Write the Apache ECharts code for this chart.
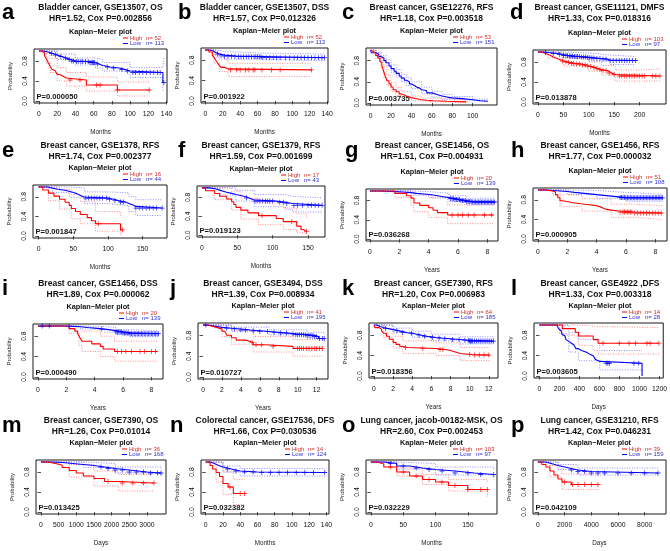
<!DOCTYPE html>
<html><head><meta charset="utf-8">
<script src="https://cdn.jsdelivr.net/npm/echarts@6/dist/echarts.min.js"></script>
<style>html,body{margin:0;padding:0;background:#fff}#c{width:670px;height:551px}</style>
</head><body><div id="c"></div>
<script>
// ---------- text content ----------
const letters = ['a','b','c','d','e','f','g','h','i','j','k','l','m','n','o','p'];
const titles1 = ['Bladder cancer, GSE13507, OS','Bladder cancer, GSE13507, DSS','Breast cancer, GSE12276, RFS','Breast cancer, GSE11121, DMFS',
 'Breast cancer, GSE1378, RFS','Breast cancer, GSE1379, RFS','Breast cancer, GSE1456, OS','Breast cancer, GSE1456, RFS',
 'Breast cancer, GSE1456, DSS','Breast cancer, GSE3494, DSS','Breast cancer, GSE7390, RFS','Breast cancer, GSE4922 ,DFS',
 'Breast cancer, GSE7390, OS','Colorectal cancer, GSE17536, DFS','Lung cancer, jacob-00182-MSK, OS','Lung cancer, GSE31210, RFS'];
const titles2 = ['HR=1.52, Cox P=0.002856','HR=1.57, Cox P=0.012326','HR=1.18, Cox P=0.003518','HR=1.33, Cox P=0.018316',
 'HR=1.74, Cox P=0.002377','HR=1.59, Cox P=0.001699','HR=1.51, Cox P=0.004931','HR=1.77, Cox P=0.000032',
 'HR=1.89, Cox P=0.000062','HR=1.39, Cox P=0.008934','HR=1.20, Cox P=0.006983','HR=1.33, Cox P=0.003318',
 'HR=1.26, Cox P=0.01014','HR=1.66, Cox P=0.030536','HR=2.60, Cox P=0.002453','HR=1.42, Cox P=0.046231'];
const highN = [52,52,53,103,16,17,20,51,20,41,64,14,36,14,103,39];
const lowN  = [113,113,151,97,44,43,139,108,139,195,185,28,168,124,97,159];
const pTexts = ['P=0.000050','P=0.001922','P=0.003735','P=0.013878','P=0.001847','P=0.019123','P=0.036268','P=0.000905',
 'P=0.000490','P=0.010727','P=0.018356','P=0.003605','P=0.013425','P=0.032382','P=0.032229','P=0.042109'];
const xNames = ['Months','Months','Months','Months','Months','Months','Years','Years','Years','Years','Years','Days','Days','Months','Months','Days'];
const ticks140 = [0,20,40,60,80,100,120,140];
const ticks100 = [0,20,40,60,80,100];
const ticks200 = [0,50,100,150,200];
const ticks150 = [0,50,100,150];
const ticks8 = [0,2,4,6,8];
const ticks12 = [0,2,4,6,8,10,12];
const ticks1200 = [0,200,400,600,800,1000,1200];
const ticks3000 = [0,500,1000,1500,2000,2500,3000];
const ticks8000 = [0,2000,4000,6000,8000];
const xTicks = [ticks140,ticks140,ticks100,ticks200,ticks150,ticks150,ticks8,ticks8,ticks8,ticks12,ticks12,ticks1200,ticks3000,ticks140,ticks150,ticks8000];
const yTicks = [0,0.4,0.8];

// ---------- curves (time, survival) ----------
const aHigh = [[0,1],[3,0.96],[6,0.9],[8,0.85],[10,0.77],[12,0.7],[14,0.64],[16,0.6],[18,0.56],[20,0.53],[23,0.5],[26,0.46],[30,0.42],[52,0.32],[86,0.22],[121,0.22]];
const aLow = [[0,1],[5,0.98],[10,0.95],[15,0.92],[20,0.89],[25,0.86],[30,0.83],[35,0.8],[40,0.79],[55,0.77],[62,0.74],[66,0.71],[70,0.68],[78,0.66],[88,0.63],[95,0.6],[100,0.57],[136,0.37],[137,0.37]];
const aHighCens = [34,45,63,67,86,121];
const aLowCens = [14,18,24,29,33,36,38,41,43,46,48,51,54,56,58,59,60,61,64,75,82,91,97,103,106,110,114,118,122,126,130,133,137];
const aHighUp = [[0,1],[8,0.95],[12,0.85],[20,0.67],[30,0.57],[52,0.48],[86,0.38],[121,0.38]];
const aHighLo = [[0,1],[8,0.75],[12,0.57],[20,0.4],[30,0.3],[52,0.2],[86,0.1],[121,0.1]];
const aLowUp = [[0,1],[20,0.94],[40,0.86],[62,0.83],[70,0.77],[100,0.67],[136,0.66],[137,0.86]];
const aLowLo = [[0,1],[20,0.83],[40,0.72],[62,0.66],[70,0.6],[100,0.47],[136,0.2],[137,0.2]];

const bHigh = [[0,1],[4,0.96],[8,0.9],[10,0.85],[12,0.8],[14,0.75],[16,0.7],[18,0.66],[22,0.63],[26,0.61],[122,0.61]];
const bLow = [[0,1],[5,0.98],[9,0.95],[12,0.92],[16,0.9],[22,0.88],[35,0.87],[65,0.85],[137,0.85]];
const bHighCens = [29,36,40,46,50,55,57,65,76,86,122];
const bLowCens = [14,18,22,26,30,34,38,41,44,47,50,53,56,58,60,62,64,66,70,74,78,82,86,92,97,102,106,110,114,118,122,126,130,134,137];
const bHighUp = [[0,1],[10,0.95],[16,0.82],[26,0.74],[122,0.74]];
const bHighLo = [[0,1],[10,0.74],[16,0.58],[26,0.48],[122,0.48]];
const bLowUp = [[0,1],[12,0.97],[22,0.94],[65,0.92],[137,0.92]];
const bLowLo = [[0,1],[12,0.86],[22,0.82],[65,0.79],[137,0.78]];

const cHigh = [[0,1],[0.5,0.97],[3,0.94],[5,0.9],[7,0.85],[9,0.79],[10,0.76],[11,0.7],[12,0.64],[13,0.58],[14,0.52],[15,0.47],[16,0.42],[18,0.36],[20,0.3],[22,0.25],[25,0.21],[28,0.17],[30,0.15],[33,0.12],[36,0.1],[40,0.08],[45,0.06],[50,0.05],[55,0.04],[62,0.03],[75,0.02],[94,0.02]];
const cLow = [[0,1],[0.5,0.95],[5,0.92],[8,0.88],[10,0.85],[13,0.8],[15,0.76],[18,0.7],[20,0.65],[23,0.6],[25,0.56],[28,0.51],[30,0.47],[33,0.43],[35,0.4],[38,0.36],[40,0.33],[43,0.3],[45,0.28],[48,0.25],[50,0.23],[55,0.19],[60,0.16],[65,0.13],[70,0.11],[75,0.095],[80,0.08],[90,0.06],[100,0.04],[108,0.03],[115,0.02]];
const cHighCens = [];
const cLowCens = [];
const cHighUp = [[0,1],[5,0.95],[10,0.84],[13,0.68],[16,0.52],[20,0.39],[25,0.29],[30,0.22],[40,0.13],[50,0.09],[62,0.06],[94,0.05]];
const cHighLo = [[0,1],[5,0.84],[10,0.67],[13,0.48],[16,0.33],[20,0.22],[25,0.14],[30,0.09],[40,0.04],[50,0.02],[62,0.01],[94,0.005]];
const cLowUp = [[0,1],[5,0.96],[10,0.9],[15,0.82],[20,0.72],[25,0.63],[30,0.54],[35,0.47],[40,0.4],[50,0.3],[60,0.22],[70,0.16],[80,0.12],[100,0.07],[115,0.05]];
const cLowLo = [[0,1],[5,0.88],[10,0.8],[15,0.7],[20,0.58],[25,0.49],[30,0.4],[35,0.33],[40,0.27],[50,0.17],[60,0.11],[70,0.07],[80,0.05],[100,0.02],[115,0.01]];

const dHigh = [[0,1],[5,0.99],[10,0.97],[15,0.95],[20,0.93],[25,0.9],[30,0.88],[35,0.86],[40,0.84],[45,0.82],[50,0.8],[58,0.79],[65,0.77],[75,0.76],[85,0.74],[95,0.72],[100,0.71],[105,0.69],[112,0.67],[118,0.65],[125,0.63],[135,0.61],[140,0.58],[145,0.55],[152,0.52],[240,0.52]];
const dLow = [[0,1],[12,0.99],[20,0.98],[30,0.97],[40,0.95],[50,0.93],[60,0.92],[70,0.91],[85,0.9],[95,0.89],[105,0.88],[115,0.87],[125,0.86],[135,0.84],[142,0.83],[192,0.83]];
const dHighCens = [48,55,60,66,70,76,82,88,93,98,104,110,116,122,128,134,140,150,160,165,170,175,180,185,190,195,200,205,210,225,232,240];
const dLowCens = [15,30,42,50,55,58,62,65,68,72,75,78,82,86,90,94,98,102,106,110,116,122,128,134,142,148,154,160,165,170,175,180,186,192];
const dHighUp = [[0,1],[20,0.98],[50,0.88],[100,0.8],[125,0.73],[152,0.64],[200,0.66],[240,0.68]];
const dHighLo = [[0,1],[20,0.88],[50,0.72],[100,0.62],[125,0.54],[152,0.42],[240,0.4]];
const dLowUp = [[0,1],[50,0.98],[100,0.94],[142,0.91],[192,0.92]];
const dLowLo = [[0,1],[50,0.88],[100,0.82],[142,0.75],[192,0.74]];

const eHigh = [[0,1],[6,0.9375],[14,0.875],[22,0.8125],[30,0.75],[38,0.6875],[44,0.625],[47,0.5625],[53,0.5],[60,0.4375],[70,0.375],[76,0.3125],[82,0.25],[118,0.125],[121,0.125]];
const eLow = [[0,1],[12,0.977],[20,0.955],[28,0.932],[38,0.909],[45,0.886],[50,0.864],[55,0.841],[58,0.818],[62,0.795],[66,0.773],[100,0.748],[108,0.722],[115,0.694],[125,0.665],[130,0.636],[135,0.604],[140,0.57],[178,0.57]];
const eHighCens = [86,121];
const eLowCens = [68,72,76,80,84,88,92,98,102,110,118,122,140,145,150,155,160,165,170,178];
const eHighUp = [[0,1],[14,1],[30,0.95],[47,0.85],[60,0.7],[82,0.5],[118,0.42],[121,0.42]];
const eHighLo = [[0,1],[14,0.72],[30,0.55],[47,0.35],[60,0.25],[82,0.1],[118,0.02],[121,0.02]];
const eLowUp = [[0,1],[20,1],[45,0.98],[66,0.9],[100,0.88],[130,0.8],[140,0.74],[178,0.74]];
const eLowLo = [[0,1],[20,0.89],[45,0.79],[66,0.66],[100,0.62],[130,0.5],[140,0.42],[178,0.42]];

const fHigh = [[0,1],[5,0.941],[18,0.882],[25,0.824],[35,0.765],[42,0.706],[45,0.647],[48,0.588],[55,0.529],[65,0.471],[80,0.412],[105,0.353],[115,0.286],[134,0.19],[140,0.12],[143,0.08],[148,0.08]];
const fLow = [[0,1],[10,0.977],[20,0.953],[25,0.93],[30,0.907],[35,0.884],[42,0.86],[48,0.837],[55,0.814],[62,0.79],[66,0.767],[70,0.744],[74,0.72],[105,0.696],[118,0.67],[128,0.63],[170,0.63]];
const fHighCens = [85,127,148];
const fLowCens = [63,75,78,82,86,90,93,96,100,110,115,120,130,135,142,150,155,160,165,170];
const fHighUp = [[0,1],[18,1],[42,0.93],[55,0.78],[80,0.68],[115,0.57],[134,0.45],[148,0.35]];
const fHighLo = [[0,1],[18,0.75],[42,0.53],[55,0.34],[80,0.22],[115,0.12],[134,0.05],[148,0.01]];
const fLowUp = [[0,1],[25,1],[48,0.95],[74,0.86],[118,0.82],[128,0.79],[170,0.79]];
const fLowLo = [[0,1],[25,0.85],[48,0.72],[74,0.6],[118,0.54],[128,0.49],[170,0.49]];

const gHigh = [[0,1],[1.7,0.95],[2.5,0.9],[2.8,0.85],[3.0,0.75],[3.4,0.7],[4.0,0.65],[4.3,0.6],[4.6,0.55],[5.3,0.5],[8.4,0.5]];
const gLow = [[0,1],[0.6,0.993],[1.2,0.986],[1.7,0.978],[2.2,0.964],[2.8,0.95],[3.2,0.935],[3.7,0.92],[4.2,0.9],[4.6,0.88],[5.0,0.86],[5.4,0.84],[5.8,0.82],[6.2,0.8],[6.6,0.78],[7.0,0.77],[8.5,0.77]];
const gHighCens = [5.6,6.0,6.3,6.7,7.1,7.8,8.3];
const gLowCens = [5.5,5.6,5.7,5.8,5.9,6.0,6.1,6.2,6.3,6.4,6.5,6.6,6.7,6.8,6.9,7.0,7.1,7.2,7.3,7.4,7.5,7.6,7.7,7.8,7.9,8.0,8.1,8.2,8.3,8.4,8.5];
const gHighUp = [[0,1],[2.8,0.98],[3.0,0.93],[4.0,0.87],[5.3,0.71],[8.4,0.71]];
const gHighLo = [[0,1],[1.7,0.86],[2.8,0.7],[3.0,0.57],[4.0,0.45],[5.3,0.32],[8.4,0.32]];
const gLowUp = [[0,1],[2.8,0.98],[4.2,0.95],[5.4,0.9],[6.6,0.85],[8.5,0.84]];
const gLowLo = [[0,1],[2.8,0.91],[4.2,0.85],[5.4,0.78],[6.6,0.71],[8.5,0.7]];

const hHigh = [[0,1],[0.5,0.98],[1.0,0.96],[1.2,0.9],[1.35,0.84],[1.5,0.78],[1.7,0.74],[2.4,0.72],[2.9,0.7],[3.5,0.68],[4.0,0.65],[4.3,0.61],[4.6,0.59],[5.0,0.57],[5.5,0.55],[6.5,0.53],[8.5,0.53]];
const hLow = [[0,1],[0.5,0.99],[1.0,0.98],[1.5,0.97],[2.0,0.95],[2.5,0.935],[3.0,0.92],[3.5,0.905],[4.0,0.89],[4.5,0.875],[5.0,0.86],[5.5,0.845],[6.0,0.84],[8.5,0.84]];
const hHighCens = [5.6,5.8,5.9,6.0,6.1,6.2,6.3,6.4,6.6,6.8,7.0,7.2,7.4,7.6,7.8,8.0,8.2,8.4];
const hLowCens = [5.6,5.7,5.8,5.9,6.0,6.1,6.2,6.3,6.4,6.5,6.6,6.7,6.8,6.9,7.0,7.1,7.2,7.3,7.4,7.5,7.6,7.7,7.8,7.9,8.0,8.1,8.2,8.3,8.4,8.5];
const hHighUp = [[0,1],[1.0,1],[1.5,0.9],[3.0,0.82],[5.0,0.71],[6.5,0.68],[8.5,0.68]];
const hHighLo = [[0,1],[1.0,0.9],[1.5,0.66],[3.0,0.57],[5.0,0.44],[6.5,0.4],[8.5,0.4]];
const hLowUp = [[0,1],[2,0.99],[4,0.95],[6,0.91],[8.5,0.91]];
const hLowLo = [[0,1],[2,0.91],[4,0.83],[6,0.77],[8.5,0.77]];

const iHigh = [[0,1],[2.2,0.95],[2.6,0.9],[2.8,0.85],[2.9,0.8],[3.0,0.75],[3.1,0.7],[3.8,0.65],[4.4,0.6],[4.6,0.55],[5.4,0.5],[8.4,0.5]];
const iLow = [[0,1],[2.0,0.993],[2.5,0.985],[3.0,0.97],[3.5,0.955],[4.2,0.94],[4.7,0.925],[5.1,0.91],[5.5,0.885],[6.0,0.865],[6.5,0.85],[8.5,0.85]];
const iHighCens = [5.6,5.9,6.2,6.6,7.2,7.5,8.0,8.3];
const iLowCens = [0.3,0.8,2.2,4.5,5.5,5.6,5.7,5.8,5.9,6.0,6.1,6.2,6.3,6.4,6.5,6.6,6.7,6.8,6.9,7.0,7.1,7.2,7.3,7.4,7.5,7.6,7.7,7.8,7.9,8.0,8.1,8.2,8.3,8.4,8.5];
const iHighUp = [[0,1],[2.9,0.98],[3.1,0.9],[4.4,0.8],[5.4,0.7],[8.4,0.7]];
const iHighLo = [[0,1],[2.2,0.86],[2.9,0.62],[3.1,0.5],[4.4,0.4],[5.4,0.31],[8.4,0.31]];
const iLowUp = [[0,1],[3.0,0.99],[4.7,0.97],[5.5,0.93],[6.5,0.91],[8.5,0.91]];
const iLowLo = [[0,1],[3.0,0.94],[4.7,0.88],[5.5,0.83],[6.5,0.79],[8.5,0.79]];

const jHigh = [[0,1],[0.5,0.976],[1.0,0.951],[1.5,0.927],[2.0,0.88],[2.3,0.854],[2.5,0.805],[3.0,0.756],[3.5,0.71],[4.5,0.683],[5.0,0.66],[5.3,0.62],[6.5,0.59],[9.5,0.55],[12.6,0.55]];
const jLow = [[0,1],[0.5,0.985],[1.0,0.97],[1.5,0.955],[2.0,0.94],[3.0,0.925],[4.0,0.905],[5.0,0.89],[6.0,0.875],[7.0,0.86],[8.0,0.845],[9.0,0.83],[9.8,0.815],[11.0,0.8],[11.8,0.78],[12.2,0.74],[12.8,0.74]];
const jHighCens = [5.2,5.6,6.2,7.4,10.0,10.2,10.4,10.6,10.9,11.2,11.5,11.8,12.0,12.3,12.6];
const jLowCens = [0.3,2.5,3.3,4.0,4.5,5.3,6.0,6.8,7.5,8.2,8.8,9.5,9.8,10.0,10.2,10.4,10.6,10.8,11.0,11.2,11.4,11.6,11.8,12.0,12.3,12.6,12.8];
const jHighUp = [[0,1],[2,0.98],[3,0.9],[5.3,0.78],[9.5,0.72],[12.6,0.72]];
const jHighLo = [[0,1],[2,0.78],[3,0.63],[5.3,0.48],[9.5,0.4],[12.6,0.4]];
const jLowUp = [[0,1],[3,0.96],[7,0.91],[11,0.86],[12.8,0.82]];
const jLowLo = [[0,1],[3,0.88],[7,0.81],[11,0.74],[12.8,0.65]];

const kHigh = [[0,1],[0.1,0.95],[0.5,0.92],[0.8,0.88],[1.0,0.84],[1.3,0.78],[1.6,0.72],[2.0,0.66],[2.3,0.62],[2.7,0.58],[3.0,0.56],[3.5,0.55],[5.0,0.54],[6.5,0.52],[7.5,0.5],[8.0,0.47],[8.5,0.44],[9.0,0.42],[10.2,0.41],[12.1,0.41]];
const kLow = [[0,1],[0.3,0.97],[0.6,0.95],[1.0,0.93],[1.5,0.91],[2.0,0.89],[2.5,0.87],[3.0,0.85],[3.5,0.84],[4.0,0.82],[4.5,0.8],[5.0,0.78],[5.5,0.77],[6.0,0.755],[6.5,0.745],[7.0,0.73],[8.0,0.715],[9.0,0.7],[10.0,0.685],[12.5,0.685]];
const kHighCens = [3.3,5.1,6.9,7.2,10.0,10.5,11.0,11.5,12.0];
const kLowCens = [1.2,2.4,3.0,3.9,4.7,5.3,6.1,6.8,7.4,8.2,8.9,9.5,9.9,10.0,10.1,10.2,10.3,10.5,10.7,10.9,11.1,11.3,11.5,11.7,11.9,12.1,12.3,12.5];
const kHighUp = [[0,1],[1,0.93],[2,0.78],[3,0.69],[6.5,0.65],[9,0.56],[12.1,0.56]];
const kHighLo = [[0,1],[1,0.75],[2,0.55],[3,0.44],[6.5,0.4],[9,0.3],[12.1,0.29]];
const kLowUp = [[0,1],[2,0.94],[4,0.88],[6,0.82],[9,0.77],[12.5,0.76]];
const kLowLo = [[0,1],[2,0.85],[4,0.76],[6,0.69],[9,0.63],[12.5,0.61]];

const lHigh = [[0,1],[228,0.929],[358,0.857],[390,0.786],[537,0.714],[586,0.643],[1195,0.643]];
const lLow = [[0,1],[175,0.964],[190,0.929],[205,0.893],[215,0.857],[225,0.821],[240,0.786],[255,0.75],[265,0.714],[280,0.679],[293,0.643],[320,0.607],[345,0.571],[365,0.536],[390,0.5],[420,0.464],[470,0.429],[500,0.393],[540,0.357],[560,0.321],[580,0.286],[603,0.25],[1026,0]];
const lHighCens = [635,798,896,961,1075,1107,1195];
const lLowCens = [668,684,700,945,993];
const lHighUp = [[0,1],[228,1],[390,0.97],[586,0.95],[1195,0.95]];
const lHighLo = [[0,1],[228,0.8],[390,0.6],[537,0.5],[586,0.43],[1195,0.43]];
const lLowUp = [[0,1],[200,1],[293,0.85],[390,0.72],[603,0.5],[1026,0.5]];
const lLowLo = [[0,1],[200,0.83],[293,0.47],[390,0.3],[603,0.12],[1026,0.1]];

const mHigh = [[0,1],[200,0.97],[400,0.94],[600,0.89],[800,0.83],[1000,0.78],[1200,0.72],[1500,0.67],[1800,0.61],[2200,0.58],[3200,0.58]];
const mLow = [[0,1],[300,0.99],[600,0.97],[900,0.95],[1200,0.93],[1500,0.9],[1800,0.87],[2100,0.84],[2500,0.8],[3000,0.78],[3400,0.78]];
const mHighCens = [1900,2300,2600,2900,3200];
const mLowCens = [1700,1900,2100,2300,2500,2700,2900,3100,3300,3400];
const mHighUp = [[0,1],[800,0.95],[1500,0.82],[2200,0.75],[3200,0.75]];
const mHighLo = [[0,1],[800,0.7],[1500,0.52],[2200,0.42],[3200,0.42]];
const mLowUp = [[0,1],[1200,0.97],[2100,0.9],[3400,0.86]];
const mLowLo = [[0,1],[1200,0.89],[2100,0.78],[3400,0.7]];

const nHigh = [[0,1],[5,0.93],[8,0.86],[12,0.79],[16,0.71],[20,0.57],[26,0.5],[32,0.37],[45,0.37]];
const nLow = [[0,1],[5,0.97],[10,0.93],[15,0.9],[20,0.86],[30,0.82],[40,0.8],[60,0.79],[138,0.79]];
const nHighCens = [28,40,45];
const nLowCens = [25,35,45,55,65,75,85,95,105,115,125,138];
const nHighUp = [[0,1],[12,0.98],[20,0.8],[32,0.65],[45,0.65]];
const nHighLo = [[0,1],[12,0.6],[20,0.35],[32,0.15],[45,0.15]];
const nLowUp = [[0,1],[20,0.92],[40,0.87],[138,0.87]];
const nLowLo = [[0,1],[20,0.8],[40,0.72],[138,0.7]];

const oHigh = [[0,1],[10,0.96],[20,0.9],[40,0.8],[60,0.72],[80,0.65],[100,0.6],[120,0.53],[150,0.45],[180,0.45]];
const oLow = [[0,1],[20,0.97],[40,0.92],[60,0.88],[80,0.85],[100,0.82],[130,0.78],[160,0.75],[190,0.75]];
const oHighCens = [30,50,70,90,110,130,150,170,180];
const oLowCens = [30,50,70,90,110,130,150,170,190];
const oHighUp = [[0,1],[40,0.88],[80,0.75],[120,0.65],[180,0.6]];
const oHighLo = [[0,1],[40,0.72],[80,0.55],[120,0.42],[180,0.3]];
const oLowUp = [[0,1],[40,0.97],[100,0.9],[190,0.85]];
const oLowLo = [[0,1],[40,0.86],[100,0.74],[190,0.65]];

const pHigh = [[0,1],[300,0.95],[600,0.9],[900,0.82],[1200,0.74],[1500,0.66],[1800,0.6],[2500,0.55],[4500,0.55]];
const pLow = [[0,1],[500,0.97],[1000,0.93],[1500,0.9],[2000,0.87],[2500,0.84],[3000,0.81],[4000,0.78],[9000,0.78]];
const pHighCens = [2000,2600,3000,3500,4000,4500];
const pLowCens = [2500,3000,3500,4000,4500,5000,6000,7000,8000,9000];
const pHighUp = [[0,1],[900,0.93],[1800,0.76],[4500,0.72]];
const pHighLo = [[0,1],[900,0.7],[1800,0.45],[4500,0.4]];
const pLowUp = [[0,1],[1500,0.95],[3000,0.88],[9000,0.85]];
const pLowLo = [[0,1],[1500,0.85],[3000,0.74],[9000,0.7]];

const highCurves = [aHigh,bHigh,cHigh,dHigh,eHigh,fHigh,gHigh,hHigh,iHigh,jHigh,kHigh,lHigh,mHigh,nHigh,oHigh,pHigh];
const lowCurves = [aLow,bLow,cLow,dLow,eLow,fLow,gLow,hLow,iLow,jLow,kLow,lLow,mLow,nLow,oLow,pLow];
const highCens = [aHighCens,bHighCens,cHighCens,dHighCens,eHighCens,fHighCens,gHighCens,hHighCens,iHighCens,jHighCens,kHighCens,lHighCens,mHighCens,nHighCens,oHighCens,pHighCens];
const lowCens = [aLowCens,bLowCens,cLowCens,dLowCens,eLowCens,fLowCens,gLowCens,hLowCens,iLowCens,jLowCens,kLowCens,lLowCens,mLowCens,nLowCens,oLowCens,pLowCens];
const highUps = [aHighUp,bHighUp,cHighUp,dHighUp,eHighUp,fHighUp,gHighUp,hHighUp,iHighUp,jHighUp,kHighUp,lHighUp,mHighUp,nHighUp,oHighUp,pHighUp];
const highLos = [aHighLo,bHighLo,cHighLo,dHighLo,eHighLo,fHighLo,gHighLo,hHighLo,iHighLo,jHighLo,kHighLo,lHighLo,mHighLo,nHighLo,oHighLo,pHighLo];
const lowUps = [aLowUp,bLowUp,cLowUp,dLowUp,eLowUp,fLowUp,gLowUp,hLowUp,iLowUp,jLowUp,kLowUp,lLowUp,mLowUp,nLowUp,oLowUp,pLowUp];
const lowLos = [aLowLo,bLowLo,cLowLo,dLowLo,eLowLo,fLowLo,gLowLo,hLowLo,iLowLo,jLowLo,kLowLo,lLowLo,mLowLo,nLowLo,oLowLo,pLowLo];

// ---------- layout ----------
const boxes = [[34,49,133,54],[201,48,127,55],[366,48,131,57],[533,50,133,54],
 [33,185,134,53],[197,186,128,51],[366,189,132,52],[533,188,134,53],
 [33,324,130,55],[198,323,130,56],[369,323,129,55],[534,323,132,55],
 [36,460,130,54],[201,460,128,54],[366,460,131,54],[533,460,133,54]];
const xRanges = [[-5.5,140.5],[-5,141],[-4.6,124],[-9.8,252],[-8.2,185],[-7,174],[-0.27,8.73],[-0.34,8.8],
 [-0.35,8.82],[-0.53,13.2],[-0.52,12.96],[-55,1238],[-140,3540],[-5.5,143],[-7.5,195],[-370,9600]];
const letterX = [2,178,342,510, 2,178,345,511, 2,170,342,511, 2,170,342,511];
const rowTops = [0,138,276,413];

const FONT = '"Liberation Sans", Arial, sans-serif';
const RED = '#FF0000', BLUE = '#0000FF';
const PLUS = 'path://M4.2,0H5.8V4.2H10V5.8H5.8V10H4.2V5.8H0V4.2H4.2Z';
function atTime(curve, t) { let v = curve[0][1]; for (const p of curve) { if (p[0] <= t) v = p[1]; else break; } return v; }

const grid = [], xAxis = [], yAxis = [], series = [], graphic = [];
for (let i = 0; i < 16; i++) {
  const [l, t, w, h] = boxes[i];
  const rowTop = rowTops[Math.floor(i / 4)];
  grid.push({left: l, top: t, width: w, height: h, show: true, borderColor: '#1a1a1a', borderWidth: 1, backgroundColor: 'transparent'});
  xAxis.push({gridIndex: i, type: 'value', min: xRanges[i][0], max: xRanges[i][1],
    name: xNames[i], nameLocation: 'middle', nameGap: 26,
    nameTextStyle: {fontFamily: FONT, fontSize: 6.3, color: '#222'},
    axisLine: {show: false}, splitLine: {show: false},
    axisTick: {show: true, length: 3.5, customValues: xTicks[i], lineStyle: {color: '#222', width: 0.8}},
    axisLabel: {customValues: xTicks[i], fontFamily: FONT, fontSize: 6.8, color: '#111', margin: 8, formatter: v => String(v)}});
  yAxis.push({gridIndex: i, type: 'value', min: -0.04, max: 1.04,
    name: 'Probability', nameLocation: 'middle', nameGap: 21, nameRotate: 90,
    nameTextStyle: {fontFamily: FONT, fontSize: 6, color: '#222'},
    axisLine: {show: false}, splitLine: {show: false},
    axisTick: {show: true, length: 3.5, customValues: yTicks, lineStyle: {color: '#222', width: 0.8}},
    axisLabel: {customValues: yTicks, rotate: 90, fontFamily: FONT, fontSize: 6.8, color: '#111', margin: 5, formatter: v => v.toFixed(1)}});
  const ci = (data, color) => ({type: 'line', xAxisIndex: i, yAxisIndex: i, data, step: 'end', symbol: 'none', silent: true,
    lineStyle: {color, width: 0.8, type: [1, 1.5]}, z: 1});
  series.push(ci(highUps[i], '#ff7070'), ci(highLos[i], '#ff7070'), ci(lowUps[i], '#7070ff'), ci(lowLos[i], '#7070ff'));
  const km = (data, color) => ({type: 'line', xAxisIndex: i, yAxisIndex: i, data, step: 'end', symbol: 'none', silent: true,
    lineStyle: {color, width: 1.1}, z: 2});
  series.push(km(lowCurves[i], BLUE), km(highCurves[i], RED));
  const cens = (times, curve, color) => ({type: 'scatter', xAxisIndex: i, yAxisIndex: i, silent: true,
    data: times.map(tt => [tt, atTime(curve, tt)]), symbol: PLUS, symbolSize: 5, itemStyle: {color}, z: 3});
  series.push(cens(lowCens[i], lowCurves[i], BLUE), cens(highCens[i], highCurves[i], RED));

  const cx = l + w / 2, r = l + w;
  const txt = (text, x, y, font, fill, align) => ({type: 'text', x, y, silent: true,
    style: {text, font, fill, textAlign: align || 'center', textVerticalAlign: 'middle'}});
  graphic.push(txt(letters[i], letterX[i], rowTop + 12.5, 'bold 22px ' + FONT, '#000', 'left'));
  graphic.push(txt(titles1[i], cx, rowTop + 8, 'bold 8.5px ' + FONT, '#111'));
  graphic.push(txt(titles2[i], cx, rowTop + 18.5, 'bold 8.5px ' + FONT, '#111'));
  graphic.push(txt('Kaplan\u2212Meier plot', cx, t - 17.5, 'bold 7.3px ' + FONT, '#111'));
  const ly1 = t - 11, ly2 = t - 5.5;
  graphic.push({type: 'line', silent: true, shape: {x1: r - 44, y1: ly1, x2: r - 39, y2: ly1}, style: {stroke: RED, lineWidth: 1}});
  graphic.push({type: 'line', silent: true, shape: {x1: r - 44, y1: ly2, x2: r - 39, y2: ly2}, style: {stroke: BLUE, lineWidth: 1}});
  graphic.push(txt('High', r - 37, ly1, '6px ' + FONT, '#d03030', 'left'));
  graphic.push(txt('n= ' + highN[i], r - 21, ly1, '6px ' + FONT, '#d03030', 'left'));
  graphic.push(txt('Low', r - 37, ly2, '6px ' + FONT, '#3030d0', 'left'));
  graphic.push(txt('n= ' + lowN[i], r - 21, ly2, '6px ' + FONT, '#3030d0', 'left'));
  graphic.push(txt(pTexts[i], l + 2.5, t + h - 6, 'bold 7.6px ' + FONT, '#111', 'left'));
}

const chart = echarts.init(document.getElementById('c'), null, {renderer: 'canvas'});
chart.setOption({animation: false, grid, xAxis, yAxis, series, graphic});
</script></body></html>
